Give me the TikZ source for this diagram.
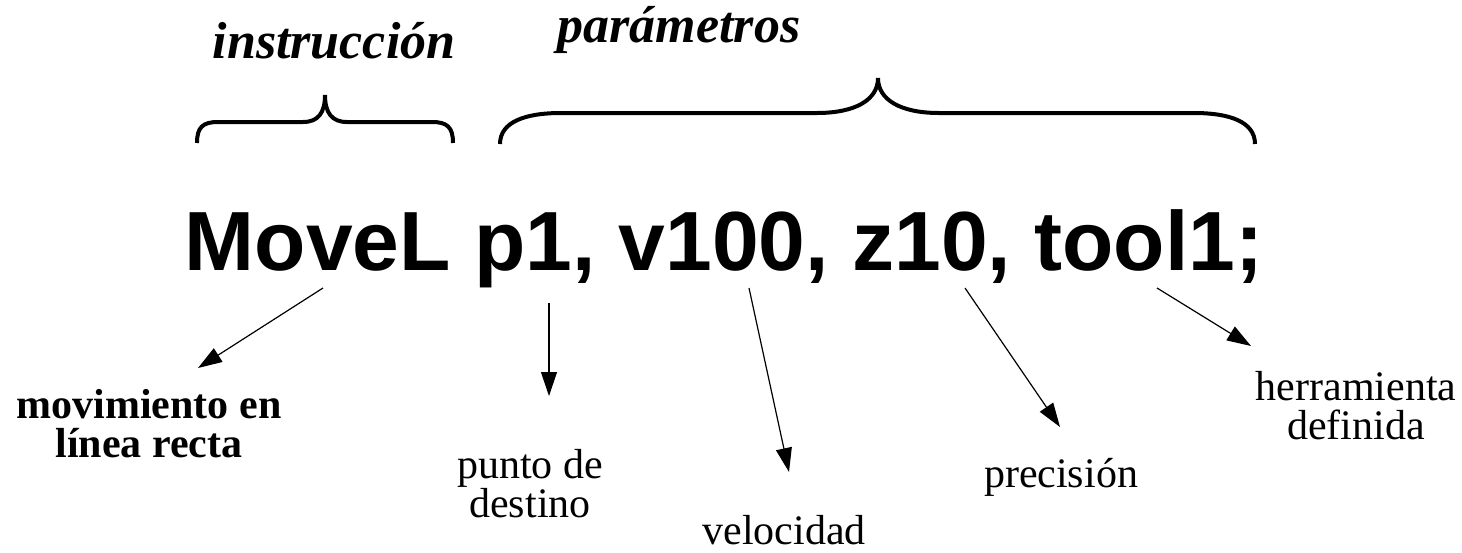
\documentclass[tikz,border=0pt]{standalone}
\usepackage{fontspec}
\setmainfont{Liberation Serif}
\newfontfamily\cmdfont{Liberation Sans}
\usetikzlibrary{arrows.meta}
\tikzset{
  cmd text/.style={font=\cmdfont\bfseries\fontsize{42}{48}\selectfont, inner sep=0pt, anchor=base},
  part label/.style={font=\bfseries\itshape\fontsize{26}{30}\selectfont, inner sep=0pt, anchor=base},
  note label/.style={font=\fontsize{21}{19.5}\selectfont, align=center, inner sep=0pt, anchor=base},
  note bold/.style={note label, font=\bfseries\fontsize{21}{19.5}\selectfont},
  brace line/.style={line width=2pt},
  note arrow/.style={-{Triangle[length=12pt,width=8pt]}, line width=0.6pt}
}
\begin{document}
\begin{tikzpicture}[x=0.5pt,y=-0.5pt]
\path[use as bounding box, fill=white] (0,0) rectangle (1462,552);
% the instruction line
\node[cmd text] (cmd) at (724,270) {MoveL p1, v100, z10, tool1;};
% braces above
\node[part label] (instr) at (334,58) {instrucción};
\node[part label] (param) at (679,42) {parámetros};
\draw[brace line] (197,143) .. controls (197,127) and (203,122) .. (218,122) -- (303,122)
  .. controls (318,122) and (325,113) .. (325,95) .. controls (325,113) and (332,122) .. (347,122)
  -- (432,122) .. controls (447,122) and (453,127) .. (453,143);
\draw[brace line] (500,144) .. controls (500,122) and (525,113) .. (561,113) -- (817,113)
  .. controls (855,113) and (878,100) .. (878,78) .. controls (878,100) and (901,113) .. (939,113)
  -- (1194,113) .. controls (1230,113) and (1255,122) .. (1255,144);
% labels below (base = last line)
\node[note bold] (move) at (149,457) {movimiento en\\línea recta};
\node[note label] (point) at (530,517) {punto de\\destino};
\node[note label] (speed) at (784,544) {velocidad};
\node[note label] (zone) at (1061,487) {precisión};
\node[note label] (tool) at (1356,439) {herramienta\\definida};
% arrow ends
\coordinate (move s) at (323,288);
\coordinate (move e) at (198,368);
\coordinate (point s) at (549,303);
\coordinate (point e) at (549,396);
\coordinate (speed s) at (749,288);
\coordinate (speed e) at (789,472);
\coordinate (zone s) at (965,288);
\coordinate (zone e) at (1060,427);
\coordinate (tool s) at (1157,288);
\coordinate (tool e) at (1251,346);
\draw[note arrow] (move s) -- (move e);
\draw[note arrow] (point s) -- (point e);
\draw[note arrow] (speed s) -- (speed e);
\draw[note arrow] (zone s) -- (zone e);
\draw[note arrow] (tool s) -- (tool e);
\end{tikzpicture}
\end{document}
